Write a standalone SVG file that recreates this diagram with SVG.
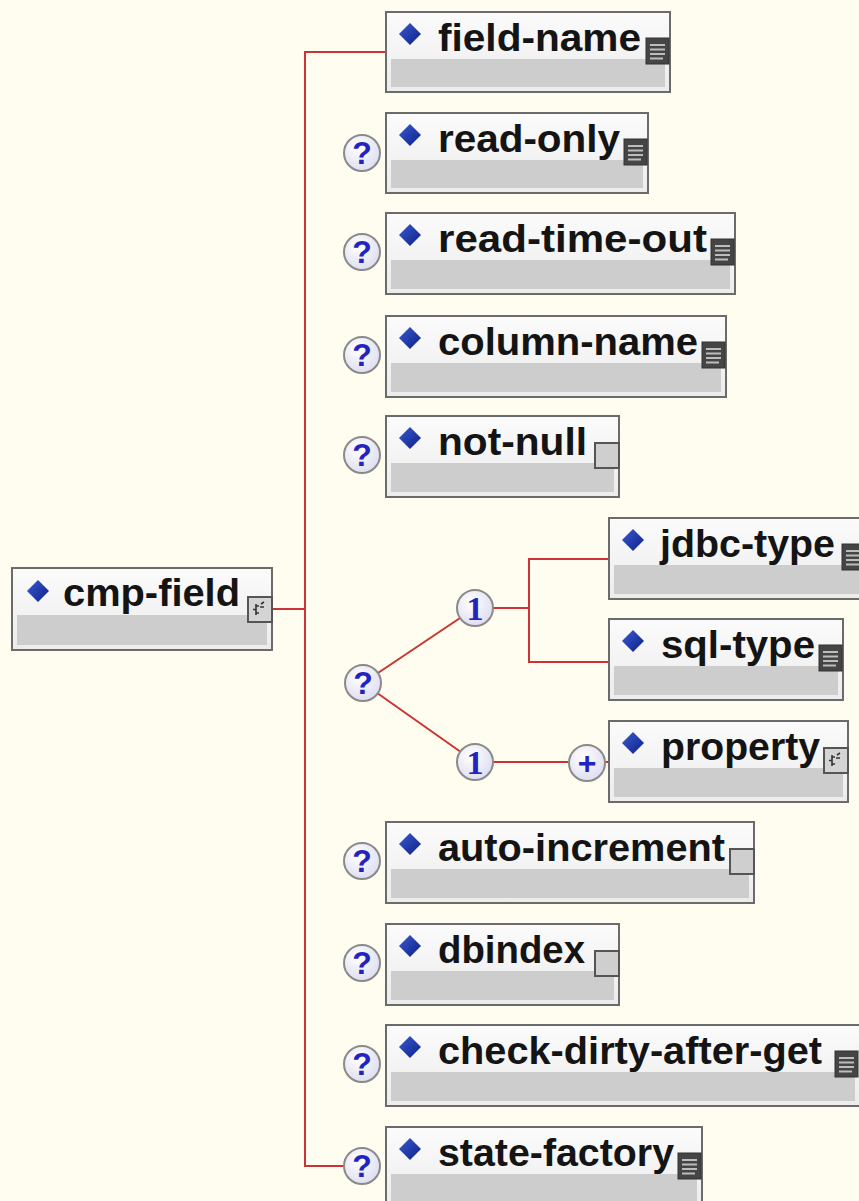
<svg xmlns="http://www.w3.org/2000/svg" width="859" height="1201" viewBox="0 0 859 1201">
<defs>
<linearGradient id="titleGrad" x1="0" y1="0" x2="0" y2="1">
<stop offset="0" stop-color="#fbfbfb"/>
<stop offset="1" stop-color="#ececec"/>
</linearGradient>
<radialGradient id="circGrad" cx="0.4" cy="0.35" r="0.7">
<stop offset="0" stop-color="#ffffff"/>
<stop offset="1" stop-color="#dcdcf0"/>
</radialGradient>
<linearGradient id="diaGrad" x1="0" y1="0" x2="1" y2="1">
<stop offset="0" stop-color="#3a5ad0"/>
<stop offset="1" stop-color="#0c2088"/>
</linearGradient>
<g id="listIcon">
<rect x="0" y="0" width="23" height="26" fill="#454545" stroke="#333" stroke-width="1"/>
<path d="M4 7H19M4 11.5H19M4 16H19M4 20.5H17" stroke="#bdbdbd" stroke-width="2"/>
</g>
<g id="emptyIcon">
<rect x="0" y="0" width="24" height="25" fill="#cfcfcf" stroke="#555" stroke-width="2"/>
</g>
<g id="complexIcon">
<rect x="0" y="0" width="24" height="25" fill="#d4d4d4" stroke="#555" stroke-width="2"/>
<path d="M8 7V18M8 12.5H5M8 9H11M8 16H11M13 7l3 -2M12 10l4 0" stroke="#333" stroke-width="1.6" fill="none"/>
</g>
<path id="dia" d="M0 -11L11 0L0 11L-11 0Z"/>
</defs>
<style>
.bg { fill: #fefdf0; }
.box { fill: url(#titleGrad); stroke: #6b6b6b; stroke-width: 2; }
.content { fill: #cdcdcd; }
.lbl { font-family: "Liberation Sans", Arial, sans-serif; font-weight: bold; font-size: 39px; fill: #141414; }
.conn { stroke: #cc3333; stroke-width: 2; fill: none; }
.circ { fill: url(#circGrad); stroke: #8a8a8a; stroke-width: 2; }
.q { font-family: "Liberation Sans", Arial, sans-serif; font-weight: bold; font-size: 32px; fill: #2323c0; text-anchor: middle; }
.one { font-family: "Liberation Serif", "Times New Roman", serif; font-weight: bold; font-size: 34px; fill: #2323c0; text-anchor: middle; }
.dia { fill: url(#diaGrad); }
</style>
<rect class="bg" x="0" y="0" width="859" height="1201"/>

<g id="connectors">
<path class="conn" d="M386 52H305V1166H344"/>
<path class="conn" d="M272 609H305"/>
<path class="conn" d="M363 683L475 608M363 683L475 762"/>
<path class="conn" d="M475 608H529M609 559H529V662H609"/>
<path class="conn" d="M475 762H609"/>
</g>

<g id="node-cmp-field">
<rect class="box" x="12" y="568" width="260" height="82"/>
<rect class="content" x="17" y="615" width="250" height="30"/>
<use href="#dia" class="dia" x="38" y="591"/>
<text class="lbl" x="63" y="606" textLength="177" lengthAdjust="spacingAndGlyphs">cmp-field</text>
<use href="#complexIcon" x="248" y="597"/>
</g>

<g id="node-field-name">
<rect class="box" x="386" y="12" width="284" height="80"/>
<rect class="content" x="391" y="59" width="274" height="28"/>
<use href="#dia" class="dia" x="410" y="34"/>
<text class="lbl" x="438" y="51" textLength="203" lengthAdjust="spacingAndGlyphs">field-name</text>
<use href="#listIcon" x="646" y="38"/>
</g>

<g id="node-read-only">
<circle class="circ" cx="362" cy="153" r="18"/>
<text class="q" x="362" y="164">?</text>
<rect class="box" x="386" y="113" width="262" height="80"/>
<rect class="content" x="391" y="160" width="252" height="28"/>
<use href="#dia" class="dia" x="410" y="135"/>
<text class="lbl" x="438" y="152" textLength="182" lengthAdjust="spacingAndGlyphs">read-only</text>
<use href="#listIcon" x="624" y="139"/>
</g>

<g id="node-read-time-out">
<circle class="circ" cx="362" cy="252" r="18"/>
<text class="q" x="362" y="263">?</text>
<rect class="box" x="386" y="213" width="349" height="81"/>
<rect class="content" x="391" y="260" width="339" height="29"/>
<use href="#dia" class="dia" x="410" y="235"/>
<text class="lbl" x="438" y="252" textLength="269" lengthAdjust="spacingAndGlyphs">read-time-out</text>
<use href="#listIcon" x="711" y="239"/>
</g>

<g id="node-column-name">
<circle class="circ" cx="362" cy="355" r="18"/>
<text class="q" x="362" y="366">?</text>
<rect class="box" x="386" y="316" width="340" height="81"/>
<rect class="content" x="391" y="363" width="330" height="29"/>
<use href="#dia" class="dia" x="410" y="338"/>
<text class="lbl" x="438" y="355" textLength="260" lengthAdjust="spacingAndGlyphs">column-name</text>
<use href="#listIcon" x="702" y="342"/>
</g>

<g id="node-not-null">
<circle class="circ" cx="362" cy="455" r="18"/>
<text class="q" x="362" y="466">?</text>
<rect class="box" x="386" y="416" width="233" height="81"/>
<rect class="content" x="391" y="463" width="223" height="29"/>
<use href="#dia" class="dia" x="410" y="438"/>
<text class="lbl" x="438" y="455" textLength="149" lengthAdjust="spacingAndGlyphs">not-null</text>
<use href="#emptyIcon" x="595" y="443"/>
</g>

<g id="choice">
<circle class="circ" cx="363" cy="683" r="18"/>
<text class="q" x="363" y="694">?</text>
<circle class="circ" cx="475" cy="608" r="18"/>
<text class="one" x="475" y="620">1</text>
<circle class="circ" cx="475" cy="762" r="18"/>
<text class="one" x="475" y="774">1</text>
</g>

<g id="node-jdbc-type">
<rect class="box" x="609" y="518" width="258" height="81"/>
<rect class="content" x="614" y="565" width="248" height="29"/>
<use href="#dia" class="dia" x="633" y="540"/>
<text class="lbl" x="660" y="557" textLength="175" lengthAdjust="spacingAndGlyphs">jdbc-type</text>
<use href="#listIcon" x="842" y="544"/>
</g>

<g id="node-sql-type">
<rect class="box" x="609" y="619" width="234" height="81"/>
<rect class="content" x="614" y="666" width="224" height="29"/>
<use href="#dia" class="dia" x="633" y="641"/>
<text class="lbl" x="661" y="658" textLength="154" lengthAdjust="spacingAndGlyphs">sql-type</text>
<use href="#listIcon" x="819" y="645"/>
</g>

<g id="node-property">
<circle class="circ" cx="587" cy="763" r="18"/>
<text class="q" x="587" y="774">+</text>
<rect class="box" x="609" y="721" width="239" height="81"/>
<rect class="content" x="614" y="768" width="229" height="29"/>
<use href="#dia" class="dia" x="633" y="743"/>
<text class="lbl" x="661" y="760" textLength="159" lengthAdjust="spacingAndGlyphs">property</text>
<use href="#complexIcon" x="824" y="748"/>
</g>

<g id="node-auto-increment">
<circle class="circ" cx="362" cy="861" r="18"/>
<text class="q" x="362" y="872">?</text>
<rect class="box" x="386" y="822" width="368" height="81"/>
<rect class="content" x="391" y="869" width="358" height="29"/>
<use href="#dia" class="dia" x="410" y="844"/>
<text class="lbl" x="438" y="861" textLength="287" lengthAdjust="spacingAndGlyphs">auto-increment</text>
<use href="#emptyIcon" x="730" y="849"/>
</g>

<g id="node-dbindex">
<circle class="circ" cx="362" cy="963" r="18"/>
<text class="q" x="362" y="974">?</text>
<rect class="box" x="386" y="924" width="233" height="81"/>
<rect class="content" x="391" y="971" width="223" height="29"/>
<use href="#dia" class="dia" x="410" y="946"/>
<text class="lbl" x="438" y="963" textLength="147" lengthAdjust="spacingAndGlyphs">dbindex</text>
<use href="#emptyIcon" x="595" y="951"/>
</g>

<g id="node-check-dirty-after-get">
<circle class="circ" cx="362" cy="1064" r="18"/>
<text class="q" x="362" y="1075">?</text>
<rect class="box" x="386" y="1025" width="474" height="81"/>
<rect class="content" x="391" y="1072" width="464" height="29"/>
<use href="#dia" class="dia" x="410" y="1047"/>
<text class="lbl" x="438" y="1064" textLength="384" lengthAdjust="spacingAndGlyphs">check-dirty-after-get</text>
<use href="#listIcon" x="835" y="1051"/>
</g>

<g id="node-state-factory">
<circle class="circ" cx="362" cy="1166" r="18"/>
<text class="q" x="362" y="1177">?</text>
<rect class="box" x="386" y="1127" width="316" height="81"/>
<rect class="content" x="391" y="1174" width="306" height="29"/>
<use href="#dia" class="dia" x="410" y="1149"/>
<text class="lbl" x="438" y="1166" textLength="236" lengthAdjust="spacingAndGlyphs">state-factory</text>
<use href="#listIcon" x="678" y="1153"/>
</g>
</svg>
